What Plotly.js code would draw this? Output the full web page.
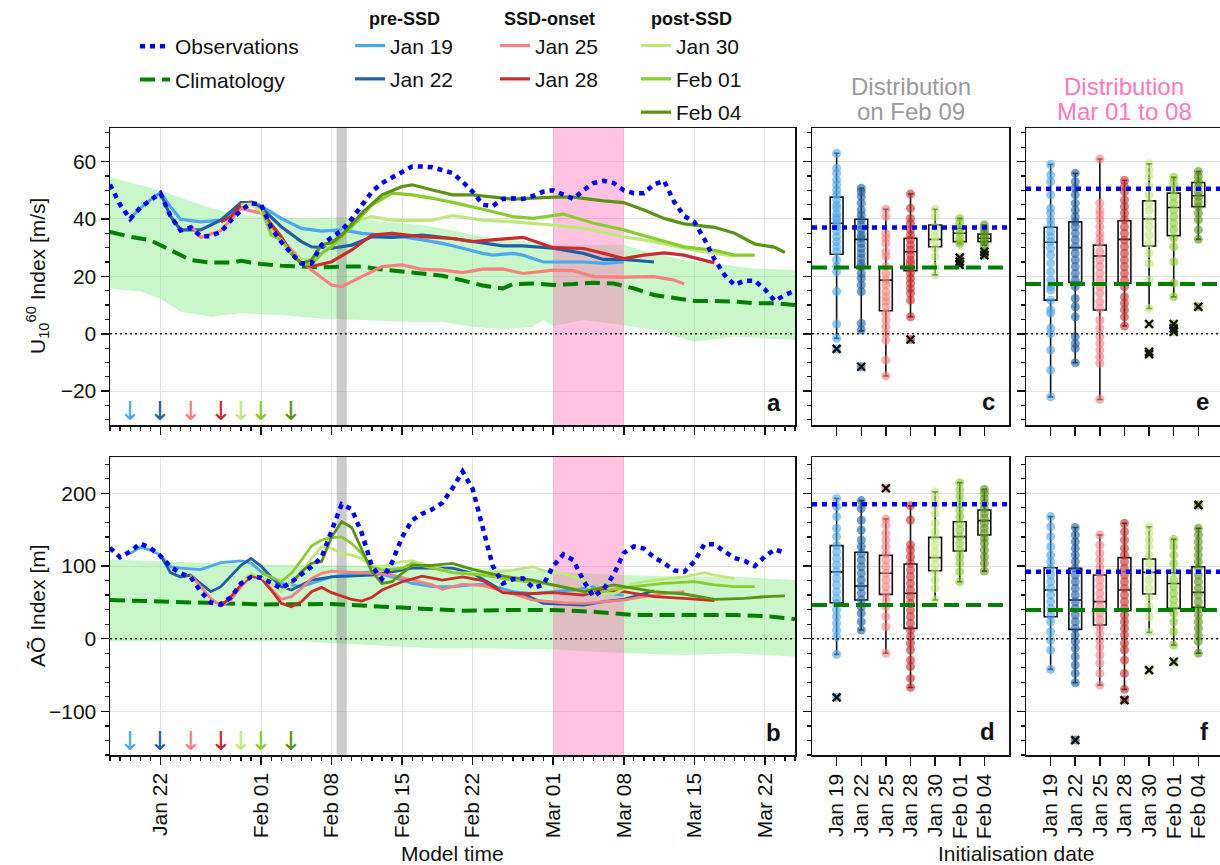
<!DOCTYPE html>
<html><head><meta charset="utf-8">
<script src="https://cdn.plot.ly/plotly-3.0.1.min.js"></script>
<style>html,body{margin:0;padding:0;background:#fff;overflow:hidden}#chart{width:1220px;height:865px}</style>
</head><body><div id="chart"></div>
<script>
// ---------------- DATA ----------------
const YEAR = '2024-';
const initLabels = ['Jan 19','Jan 22','Jan 25','Jan 28','Jan 30','Feb 01','Feb 04'];
const initDates  = ['01-19','01-22','01-25','01-28','01-30','02-01','02-04'];
const groupNames = ['pre-SSD','SSD-onset','post-SSD'];
const majorTicks    = ['01-22','02-01','02-08','02-15','02-22','03-01','03-08','03-15','03-22'];
const majorTickText = ['Jan 22','Feb 01','Feb 08','Feb 15','Feb 22','Mar 01','Mar 08','Mar 15','Mar 22'];
const graySpan = ['02-08 12:00','02-09 12:00'];
const pinkSpan = ['03-01','03-08'];

const obsDatesU = ['01-17','01-18','01-19','01-20','01-21','01-22','01-23','01-24','01-25','01-26','01-27','01-28','01-29','01-30','01-31',
 '02-01','02-02','02-03','02-04','02-05','02-06','02-07','02-08','02-09','02-10','02-11','02-12','02-13','02-14','02-15','02-16','02-17','02-18','02-19','02-20','02-21','02-22','02-23','02-24','02-25','02-26','02-27','02-28','02-29',
 '03-01','03-02','03-03','03-04','03-05','03-06','03-07','03-08','03-09','03-10','03-11','03-12','03-13','03-14','03-15','03-16','03-17','03-18','03-19','03-20','03-21','03-22','03-23','03-24','03-25'];
const obsU = [52,45,40,44,46.5,49,41,36,37,34,34,35.5,39.5,43,45.5,
 45,37,32,28,24.5,24.5,31,33.5,36,40,44.5,49.5,52.5,54.5,56.5,58.3,58.3,58,57,56,53,49.5,45,44.5,47,47.2,47,48,49.5,
 50,48.5,47,50,52.5,53.3,52.5,50,49,49,52,53.3,46,41,39,33,26,20.5,17,18.5,18.5,15.5,11.5,13.5,15];
const obsDatesAO = obsDatesU.slice(0, 68);
const obsAO = [125,112,120,131,125,114,99,90,85,65,50,47,57,76,85,
 84,77,69,78,88,99,112,150,185,178,145,100,82,105,140,163,172,178,187,207,230,206,150,100,76,82,83,70,74,
 100,116,108,80,58,68,88,118,127,124,112,104,94,92,106,130,130,120,111,107,100,113,123,118];

const climU = [['01-17',35.5],['01-19',33.8],['01-21',32.6],['01-23',29],['01-25',25.7],['01-27',24.8],['01-29',24.8],['01-30',25.4],['02-01',24.3],['02-03',23.7],['02-05',23.4],['02-07',23.1],['02-09',23.4],['02-11',23.4],['02-13',22.4],['02-15',21.6],['02-17',21],['02-19',20.2],['02-21',18.6],['02-23',16.8],['02-25',15.8],['02-26',17.3],['02-28',17.5],['03-01',17],['03-03',17.3],['03-05',17.8],['03-07',17.5],['03-09',15.8],['03-11',13.5],['03-13',12.3],['03-15',11.4],['03-17',11.4],['03-19',11.2],['03-21',10.6],['03-23',10.6],['03-25',10]];
const bandUupper = [['01-17',54.5],['01-22',50],['01-26',44.9],['01-29',42],['02-01',40.8],['02-05',40.2],['02-09',40.6],['02-13',39],['02-17',37.9],['02-20',36],['02-23',33.8],['02-26',32.5],['03-01',31],['03-08',31],['03-11',28],['03-14',25.7],['03-17',24.5],['03-21',22.7],['03-25',22.2]];
const bandUlower = [['01-17',15.8],['01-20',14.7],['01-22',12.3],['01-24',7.7],['01-27',5.9],['01-30',7.1],['02-03',6.5],['02-07',5.3],['02-11',4.8],['02-15',4.2],['02-19',4.2],['02-22',2.4],['02-25',1.5],['02-28',2.4],['02-29',4.8],['03-01',2.7],['03-04',4.8],['03-08',3],['03-11',1.3],['03-15',-2.8],['03-19',-1],['03-25',-2.2]];
const climAO = [['01-17',53.2],['01-23',51],['01-28',48.6],['02-01',47.2],['02-08',47.7],['02-13',44],['02-18',40.4],['02-21',38.5],['02-25',39.4],['03-01',39.4],['03-05',37.2],['03-09',32.6],['03-14',32.6],['03-19',32.6],['03-22',31.2],['03-25',27]];
const bandAOupper = [['01-17',109],['01-23',106],['01-29',103],['02-08',101],['02-15',100],['02-20',99],['02-24',97],['03-01',92],['03-04',90],['03-08',87.6],['03-14',85.3],['03-19',85.3],['03-25',80.7]];
const bandAOlower = [['01-17',-4],['01-26',-4],['02-05',-4],['02-12',-8.7],['02-18',-13.3],['02-24',-13.3],['03-01',-14.7],['03-08',-20],['03-14',-22.5],['03-19',-20],['03-25',-24.8]];

// forecasts, U index (panel a)
const fcU_Jan19 = [['01-19',40.2],['01-20',43.7],['01-21',46.6],['01-22',49.2],['01-23',44.3],['01-24',39.9],['01-26',39],['01-28',39.6],['01-30',44.9],['01-31',46],['02-01',44.5],['02-03',40.2],['02-05',36.7],['02-07',35.8],['02-09',36.2],['02-11',35],['02-13',34.4],['02-15',33.8],['02-17',32.7],['02-19',31.5],['02-21',29.8],['02-23',28],['02-24',27.4],['02-26',28],['02-27',27.4],['02-29',25],['03-02',25],['03-04',25],['03-06',24.5],['03-08',25]];
const fcU_Jan22 = [['01-22',49.2],['01-23',41],['01-24',36.2],['01-26',36.2],['01-28',39.6],['01-30',45.7],['01-31',45.7],['02-01',44],['02-03',37.3],['02-05',32.1],['02-06',30.3],['02-08',29.8],['02-10',30.9],['02-12',33.8],['02-14',33.6],['02-17',34.4],['02-20',33.2],['02-22',32.1],['02-25',30.6],['02-27',30.6],['03-01',29.8],['03-04',28],['03-06',25.9],['03-08',25.9],['03-11',25]];
const fcU_Jan25 = [['01-25',37.8],['01-26',33.6],['01-28',35.9],['01-30',43.7],['02-01',42],['02-02',37.3],['02-04',29.2],['02-06',22.2],['02-08',17],['02-09',16.4],['02-11',19.9],['02-13',23.4],['02-15',24],['02-17',22.4],['02-19',22.2],['02-21',21.3],['02-23',22.5],['02-25',22.6],['02-27',21],['03-01',22.2],['03-03',22],['03-05',19.9],['03-08',19.7],['03-11',19.9],['03-13',18.7],['03-14',17.3]];
const fcU_Jan28 = [['01-28',39],['01-29',40.8],['01-30',44.9],['01-31',45.5],['02-01',42.6],['02-03',33.8],['02-04',28],['02-05',24.5],['02-06',23.4],['02-08',25.1],['02-10',29.2],['02-12',34.4],['02-14',35],['02-17',33.8],['02-20',33.2],['02-22',32.1],['02-24',32.7],['02-27',33.6],['03-01',30],['03-04',29.7],['03-06',28],['03-08',26.2],['03-10',27.4],['03-12',28.2],['03-14',27.4],['03-17',24.7]];
const fcU_Jan30 = [['01-30',44.9],['01-31',45.2],['02-01',42.6],['02-02',35],['02-03',32.7],['02-04',28],['02-05',25.9],['02-06',25.7],['02-07',28],['02-08',31.5],['02-10',39],['02-12',40.8],['02-14',39.6],['02-16',39.4],['02-18',39.6],['02-20',41.2],['02-23',39.6],['02-26',39],['03-01',37.9],['03-04',36.7],['03-08',33.8],['03-11',32.1],['03-14',29.8],['03-17',28],['03-19',27.1]];
const fcU_Feb01 = [['02-01',44.3],['02-02',34.4],['02-03',32.7],['02-04',28],['02-05',24.5],['02-06',24],['02-07',28],['02-08',30.3],['02-10',37.3],['02-12',44.9],['02-14',49],['02-16',48.4],['02-18',47.2],['02-20',45.8],['02-23',43.4],['02-26',40.8],['02-28',40.2],['03-02',41.7],['03-05',38.5],['03-08',36.2],['03-11',33.2],['03-14',30.3],['03-17',29.1],['03-19',27.4],['03-21',27.4]];
const fcU_Feb04 = [['02-04',28],['02-05',24.5],['02-06',25.7],['02-07',31],['02-08',31.7],['02-09',34.4],['02-11',42],['02-13',48.4],['02-15',51.3],['02-16',51.9],['02-18',50.1],['02-20',48.4],['02-22',48.4],['02-24',47.7],['02-26',46.9],['03-01',47.6],['03-03',47.6],['03-06',46.3],['03-08',45.7],['03-10',43.1],['03-12',40.2],['03-14',38.3],['03-17',37.1],['03-19',35],['03-21',31.3],['03-23',30.1],['03-24',28.3]];

// forecasts, AO index (panel b)
const fcAO_Jan19 = [['01-19',117],['01-20',126],['01-21',122],['01-22',115],['01-23',99],['01-24',97],['01-26',95],['01-28',104.6],['01-30',107],['01-31',104],['02-01',92],['02-02',84],['02-03',76],['02-04',74],['02-05',71.6],['02-06',76],['02-08',85],['02-10',90],['02-12',92],['02-14',85],['02-16',76],['02-18',71.6],['02-20',71.6],['02-23',75],['02-25',69],['02-26',64.7],['02-28',62],['03-01',64.7],['03-03',67],['03-05',71.6],['03-06',62],['03-08',60]];
const fcAO_Jan22 = [['01-22',115],['01-23',91],['01-24',85],['01-25',87.6],['01-26',76],['01-27',64.7],['01-28',71.6],['01-30',101],['01-31',110.5],['02-01',100],['02-02',85],['02-03',71.6],['02-04',67],['02-05',74],['02-06',80.7],['02-08',85],['02-10',86],['02-12',87.6],['02-14',92],['02-16',97],['02-18',97],['02-20',97],['02-22',90],['02-24',74],['02-25',64],['02-27',62],['02-29',48.6],['03-02',47.7],['03-04',46.3],['03-06',51],['03-08',54],['03-11',66]];
const fcAO_Jan25 = [['01-25',87.6],['01-26',71.6],['01-27',55.5],['01-28',45],['01-29',53.2],['01-30',71.6],['01-31',86],['02-01',83],['02-02',69],['02-03',54],['02-04',57.8],['02-05',69],['02-06',83],['02-07',90],['02-08',93],['02-10',92],['02-12',90],['02-14',87.6],['02-16',80.7],['02-18',74],['02-19',68],['02-21',75],['02-23',73],['02-26',62],['02-28',53],['03-02',49.5],['03-04',48.6],['03-06',51],['03-08',53],['03-10',57.8],['03-12',62],['03-14',64.7]];
const fcAO_Jan28 = [['01-28',45],['01-29',57.8],['01-30',74],['01-31',86],['02-01',83],['02-02',67],['02-03',48.6],['02-04',44],['02-05',51],['02-06',64.7],['02-07',70.6],['02-08',63.3],['02-10',54],['02-11',51.8],['02-12',57],['02-13',67],['02-15',78.4],['02-17',86],['02-19',80.7],['02-21',85],['02-23',80],['02-25',63.3],['02-27',61.5],['03-01',63.3],['03-04',60],['03-06',67],['03-08',64.7],['03-11',57.8],['03-14',55.5],['03-17',52.3]];
const fcAO_Jan30 = [['01-30',76],['01-31',90],['02-01',85],['02-02',76],['02-03',64.7],['02-04',76],['02-05',90],['02-06',110.5],['02-07',126.6],['02-08',124.3],['02-09',117.4],['02-10',115],['02-11',110.5],['02-12',99],['02-13',99],['02-15',106],['02-16',107],['02-18',99],['02-20',91],['02-23',90],['02-26',94.5],['02-28',99],['02-29',93.6],['03-02',90],['03-04',80.7],['03-05',62],['03-07',61.5],['03-09',76],['03-11',80.7],['03-14',85],['03-16',91],['03-17',87.6],['03-19',83]];
const fcAO_Feb01 = [['02-01',90],['02-02',85],['02-03',78.4],['02-04',90],['02-05',108],['02-06',127.5],['02-07',135.8],['02-08',139],['02-09',140],['02-10',131],['02-11',117.4],['02-12',99],['02-13',94.5],['02-15',97],['02-16',103.7],['02-18',97],['02-20',91],['02-23',87.6],['02-26',80.7],['02-29',76],['03-03',69],['03-05',62],['03-07',68],['03-09',71.6],['03-12',76],['03-15',78.4],['03-17',74],['03-19',71.6],['03-21',71.6]];
const fcAO_Feb04 = [['02-04',76],['02-05',92],['02-06',103.7],['02-07',106],['02-08',140],['02-09',161],['02-10',153],['02-11',122],['02-12',92],['02-13',76],['02-14',78.4],['02-15',90],['02-16',101],['02-18',101],['02-20',103.5],['02-22',95.5],['02-24',89],['02-26',84],['02-28',80.7],['03-01',73.9],['03-04',64.7],['03-07',73.9],['03-09',69],['03-11',64.7],['03-14',61.5],['03-17',54],['03-20',55.5],['03-22',57.8],['03-24',59]];

// reference values for the distribution panels [U, AO]
const obsFeb09  = [37, 185];
const climFeb09 = [23.1, 46.3];
const obsMar    = [50.5, 92.2];
const climMar   = [17.3, 39.4];

// box statistics: panel c (U, Feb 09)
const cUpper = [62.9,50.7,43.4,48.7,43.4,40.2,37.9];
const cQ3    = [47.6,39.9,23.1,33.3,37.9,36.7,34.7];
const cMed   = [38.5,32.9,18.7,28.6,32.9,35.0,33.3];
const cQ1    = [27.7,23.1,8.0,22.0,30.3,32.1,32.1];
const cLower = [-1.6,1.0,-14.7,5.9,20.5,31.3,30.9];
const cOut   = [[-5.3],[-11.5],[],[-2.0],[],[26.5,25.1,24.0],[28.6,27.4]];
const cMembers = [
 [62.9,57.7,55.9,53.6,51.9,50.1,48.4,46.6,44.9,43.7,42,40.8,39.7,38.5,37.3,35.6,33.8,32.1,30.3,28.6,25.7,23.4,21.6,14.7,3.4,-1.6],
 [50.7,49.5,47.8,45.5,43.1,41.4,39.7,37.9,36.2,34.4,33.3,31.5,29.8,28,26.3,24.5,23.4,21,19.3,17,14.7,3.6,1.3],
 [43.4,40.8,35,33.3,31.5,28.6,26.9,23.4,21,18.7,17,14.7,12.9,11.2,9.4,7.1,4.8,2.4,0.1,-2.2,-9.2,-14.7],
 [48.7,43.7,40.2,38.5,36.2,34.4,32.7,30.9,29.2,27.4,25.7,24.5,22.8,21,19.3,17.6,15.8,14.1,11.7,5.9],
 [43.4,40.8,37.3,35.6,33.8,32.1,29.8,26.9,23.4,20.5],
 [40.2,38.5,36.7,35,33.3,32,31.3],
 [37.9,36.7,35.6,34.4,33.3,32.1,30.9]];
// panel e (U, Mar 01 to 08)
const eUpper = [59,55.9,60.9,53.4,59.2,54.5,56.5];
const eQ3    = [37.1,39.0,30.9,39.4,46.3,49.0,52.7];
const eMed   = [31.9,30.0,27.1,32.9,40.0,44.0,48.1];
const eQ1    = [11.7,17.9,8.3,17.6,30.6,34.2,44.3];
const eLower = [-22,-10.1,-22.9,2.7,8.8,12.9,32.9];
const eOut   = [[],[],[],[],[3.4,-6.3,-7.1],[3.4,1.9,0.7],[9.4]];
const eMembers = [
 [59,55.3,53,48.4,43.7,42,39.7,37.9,35.6,33.8,32.1,29.8,27.4,24.5,21.6,18.7,16.4,15.2,11.7,8.3,7.1,1.9,0.1,-5.7,-12.7,-22],
 [55.9,53,50.7,48.4,45.5,43.1,40.8,39,37.3,35,32.7,30.3,28,25.7,23.4,21,18.7,16.4,12.3,9.4,5.9,-1,-3.4,-5.1,-10.1],
 [60.9,45.5,43.1,41.4,39.7,37.3,35,33.3,31.5,28.6,25.7,23.4,21,18.7,16.4,14.1,11.2,8.8,4.8,1.9,-1,-3.4,-5.7,-8,-10.3,-22.9],
 [53.4,51.3,49.5,46.6,44.3,42,39.7,37.3,35,32.7,30.3,28,25.7,23.4,21,18.7,16.4,12.9,10.6,8.3,5.9,2.7],
 [59.2,57.1,54.8,51.3,48.4,45.5,43.1,39.7,37.3,34.4,31.5,28,24.5,18.7,8.8],
 [54.5,52.4,50.1,47.8,45.5,43.1,40.8,38.5,36.2,33.3,30.3,25.1,17.6,12.9],
 [56.5,54.8,53,51.3,49.5,47.8,46,44.3,42,39.7,36.2,32.9]];
// panel d (AO, Feb 09)
const dUpper = [193,190,164.7,183,202,214.7,205.5];
const dQ3    = [128,119,114.7,102.8,139.4,161,177];
const dMed   = [92,72.5,90,62.4,111.5,140.4,162.4];
const dQ1    = [49.5,53.2,61,14.2,93.6,120.6,142.7];
const dLower = [-21.6,12,-20,-67,53.2,78.4,93];
const dOut   = [[-80.7],[],[207],[],[],[],[]];
const dMembers = [
 [193,181.7,167.9,151.8,140.4,128.4,119.7,110.6,101.4,92.2,83,73.9,64.7,55.5,48.6,39.4,30.3,21.1,11.9,2.8,-21.6],
 [190,179,163,149.5,135.8,126.6,117.4,108.3,99,89.9,80.7,71.6,62.4,53.2,44,34.9,23.4,12],
 [164.7,156.4,145,135.8,126.6,117.4,108.3,99,89.9,80.7,71.6,62.4,53.2,44,30.3,16.5,-20],
 [183,163.3,128.9,122,112.8,103.7,94.5,85.3,76.1,67,57.8,48.6,39.4,30.3,21.1,11.9,2.8,-6.4,-15.6,-29.4,-38.5,-54.6,-67],
 [202,193,184,172.5,158.7,147.2,138,128.9,119.7,110.6,101.4,92.2,80.7,69.3,53.2],
 [214.7,204.6,195.4,186.2,177,167.9,158.7,149.5,140.4,131.2,122,112.8,103.7,92.2,78.4],
 [205.5,200,193,186.2,179.4,172.5,165.6,158.7,151.8,145,138,131.2,122,112.8,103.7,93]];
// panel f (AO, Mar 01 to 08)
const fUpper = [168,153,142.7,158.7,154,136.7,151.8];
const fQ3    = [97.7,96.8,87.6,111.5,109.6,90.8,99];
const fMed   = [67,53.2,51,67,91.3,76,63.8];
const fQ1    = [30.3,12.8,18.8,38.5,61.5,41.7,43.1];
const fLower = [-42.2,-60.6,-63.8,-69.7,8.7,-8.7,-20];
const fOut   = [[],[-139.4],[],[-84.4],[-43.1],[-31.7],[184]];
const fMembers = [
 [168,154,140.4,126.6,115,106,96.8,87.6,78.4,69.3,60,50.9,41.7,32.6,23.4,9.6,-1.8,-15.6,-42.2],
 [153,142.7,133.5,124.3,115,106,96.8,87.6,78.4,69.3,60,50.9,41.7,32.6,23.4,14.2,5,-4.1,-13.3,-24.8,-36.2,-47.7,-60.6],
 [142.7,128.9,117.4,108.3,99,89.9,80.7,71.6,62.4,53.2,44,34.9,25.7,16.5,7.3,-1.8,-11,-22.5,-33.9,-47.7,-63.8],
 [158.7,147.2,135.8,124.3,115,106,96.8,87.6,78.4,69.3,60,50.9,41.7,32.6,23.4,14.2,5,-6.4,-15.6,-29.4,-47.7,-69.7],
 [154,145,135.8,126.6,115,103.7,92.2,80.7,69.3,57.8,44,30.3,8.7],
 [136.7,126.6,115,103.7,92.2,80.7,71.6,62.4,53.2,44,34.9,23.4,9.6,-8.7],
 [151.8,142.7,133.5,124.3,115,106,96.8,87.6,78.4,69.3,60,50.9,41.7,32.6,23.4,14.2,5,-4.1,-20]];

// ---------------- STYLE ----------------
const FONT = 'Liberation Sans, Arial, Helvetica, sans-serif';
const initColors = ['#4aa8ee','#1f5fa6','#f88080','#cc2b2b','#bfe87a','#8acb2e','#5a9412'];
const initGroupIdx = [0,0,1,1,2,2,2];
const OBS_COL = '#0000ff', CLIM_COL = '#008000';
const rangeU = [-31.8, 71.7], rangeAO = [-160, 250];
const dt = s => YEAR + s;
const xs = a => a.map(p => dt(p[0]));
const ys = a => a.map(p => p[1]);

const fcU  = [fcU_Jan19, fcU_Jan22, fcU_Jan25, fcU_Jan28, fcU_Jan30, fcU_Feb01, fcU_Feb04];
const fcAO = [fcAO_Jan19, fcAO_Jan22, fcAO_Jan25, fcAO_Jan28, fcAO_Jan30, fcAO_Feb01, fcAO_Feb04];

const traces = [];
function timePanel(xa, ya, band, bandLo, clim, obsD, obs, fc, yr, isTop) {
  const bx = xs(band).concat(xs(bandLo).reverse());
  const by = ys(band).concat(ys(bandLo).reverse());
  traces.push({x:bx, y:by, xaxis:xa, yaxis:ya, mode:'lines', fill:'toself', fillcolor:'rgba(144,238,144,0.48)', line:{width:0}, showlegend:false, hoverinfo:'skip'});
  [[graySpan,'rgba(128,128,128,0.4)'],[pinkSpan,'rgba(255,105,180,0.4)']].forEach(([sp,col]) => {
    traces.push({x:[dt(sp[0]),dt(sp[0]),dt(sp[1]),dt(sp[1])], y:[yr[0],yr[1],yr[1],yr[0]], xaxis:xa, yaxis:ya, mode:'lines', fill:'toself', fillcolor:col, line:{width:0}, showlegend:false, hoverinfo:'skip'});
  });
  traces.push({x:xs(clim), y:ys(clim), xaxis:xa, yaxis:ya, mode:'lines', name:'Climatology', legend:'legend', legendrank:2,
    legendgroup:'clim', line:{color:CLIM_COL, width:4, dash:'15px,7px'}, showlegend:isTop});
  fc.forEach((s,i) => {
    traces.push({x:xs(s), y:ys(s), xaxis:xa, yaxis:ya, mode:'lines', name:initLabels[i],
      legend: ['legend2','legend3','legend4'][initGroupIdx[i]], legendgroup:initLabels[i],
      line:{color:initColors[i], width: isTop ? 3.2 : 2.8}, showlegend:isTop});
  });
  traces.push({x:obsD.map(dt), y:obs, xaxis:xa, yaxis:ya, mode:'lines', name:'Observations', legend:'legend', legendrank:1,
    legendgroup:'obs', line:{color:OBS_COL, width:4.5, dash:'5px,5px'}, showlegend:isTop});
}
timePanel('x','y', bandUupper, bandUlower, climU, obsDatesU, obsU, fcU, rangeU, true);
timePanel('x2','y2', bandAOupper, bandAOlower, climAO, obsDatesAO, obsAO, fcAO, rangeAO, false);

const cats = [0,1,2,3,4,5,6];
function boxPanel(xa, ya, up, q3, med, q1, lo, outs, members) {
  members.forEach((m,i) => {
    const vals = m.concat(outs[i]);
    traces.push({x:vals.map(() => cats[i]), y:vals, xaxis:xa, yaxis:ya, mode:'markers',
      marker:{size:9, color:initColors[i], opacity:0.62}, showlegend:false, hoverinfo:'skip'});
  });
  traces.push({type:'box', orientation:'v', x:cats, q1:q1, median:med, q3:q3, lowerfence:lo, upperfence:up,
    xaxis:xa, yaxis:ya, boxpoints:false, fillcolor:'rgba(0,0,0,0)', line:{color:'#111', width:1.6},
    width:0.52, whiskerwidth:0.42, showlegend:false, hoverinfo:'skip'});
  const ox = [], oy = [];
  outs.forEach((o,i) => o.forEach(v => { ox.push(cats[i]); oy.push(v); }));
  traces.push({x:ox, y:oy, xaxis:xa, yaxis:ya, mode:'markers',
    marker:{symbol:'x-thin', size:8, line:{color:'#111', width:2.4}}, showlegend:false, hoverinfo:'skip'});
}
boxPanel('x3','y3', cUpper, cQ3, cMed, cQ1, cLower, cOut, cMembers);
boxPanel('x4','y4', dUpper, dQ3, dMed, dQ1, dLower, dOut, dMembers);
boxPanel('x5','y5', eUpper, eQ3, eMed, eQ1, eLower, eOut, eMembers);
boxPanel('x6','y6', fUpper, fQ3, fMed, fQ1, fLower, fOut, fMembers);

// ---------------- LAYOUT ----------------
const W = 1220, H = 865;
const px = v => v / W, py = v => 1 - v / H;
const domA = [px(110), px(795)], domC = [px(812), px(1009)], domE = [px(1026), 1];
const domTop = [py(425), py(128)], domBot = [py(755), py(457)];
const tickFont = {family:FONT, size:21, color:'#111'};
const axBase = {showline:true, mirror:true, linecolor:'#111', linewidth:1.5, ticks:'outside', tickcolor:'#111',
  tickwidth:1.5, ticklen:8, tickfont:tickFont, zeroline:false, gridcolor:'#e2e2e2', gridwidth:1, fixedrange:true};
const timeAx = (dom, anchor, labels) => Object.assign({}, axBase, {type:'date', domain:dom, anchor:anchor,
  range:[dt('01-17'), dt('03-25')], tickmode:'array', tickvals:majorTicks.map(dt), ticktext:majorTickText,
  showticklabels:labels, tickangle:-90, showgrid:true,
  minor:{tickmode:'linear', tick0:dt('01-17'), dtick:86400000, ticklen:4, tickwidth:1.2, tickcolor:'#111', ticks:'outside', showgrid:false}});
const yAx = (dom, anchor, rng, vals, minorD, labels) => Object.assign({}, axBase, {domain:dom, anchor:anchor, range:rng,
  tickmode:'array', tickvals:vals, showticklabels:labels, showgrid:true,
  minor:{tickmode:'linear', tick0:0, dtick:minorD, ticklen:4, tickwidth:1.2, tickcolor:'#111', ticks:'outside', showgrid:false}});
const catAx = (dom, anchor, rng, labels) => Object.assign({}, axBase, {domain:dom, anchor:anchor, range:rng,
  tickmode:'array', tickvals:cats, ticktext:initLabels, tickangle:-90, showticklabels:labels, showgrid:false, ticklen:9});

const uTicks = [-20,0,20,40,60], aoTicks = [-100,0,100,200];
const legBase = {font:{family:FONT, size:21, color:'#111'}, bgcolor:'rgba(0,0,0,0)', borderwidth:0,
  xanchor:'left', yanchor:'top', traceorder:'grouped', tracegroupgap:3, itemwidth:30};
const legTitle = t => ({text:'<b>'+t+'</b>', side:'top center', font:{family:FONT, size:18, color:'#111'}});

const shapes = [];
[['x','y'],['x2','y2'],['x3','y3'],['x4','y4'],['x5','y5'],['x6','y6']].forEach(([xa,ya]) => {
  shapes.push({type:'line', xref:xa+' domain', x0:0, x1:1, yref:ya, y0:0, y1:0, line:{color:'#222', width:1.6, dash:'2px,3px'}});
});
[['x3','y3',0,obsFeb09,climFeb09],['x4','y4',1,obsFeb09,climFeb09],['x5','y5',0,obsMar,climMar],['x6','y6',1,obsMar,climMar]].forEach(([xa,ya,k,o,c]) => {
  shapes.push({type:'line', xref:xa+' domain', x0:0, x1:1, yref:ya, y0:o[k], y1:o[k], line:{color:OBS_COL, width:4.5, dash:'5px,5px'}});
  shapes.push({type:'line', xref:xa+' domain', x0:0, x1:1, yref:ya, y0:c[k], y1:c[k], line:{color:CLIM_COL, width:4, dash:'15px,7px'}});
});

const ann = [];
const txt = (x, y, text, size, color, extra) => ann.push(Object.assign({xref:'paper', yref:'paper', x:px(x), y:py(y), text:text,
  showarrow:false, font:{family:FONT, size:size, color:color}, xanchor:'center', yanchor:'middle'}, extra || {}));
txt(911, 86, 'Distribution', 24, '#9a9a9a');
txt(911, 112, 'on Feb 09', 24, '#9a9a9a');
txt(1124, 86, 'Distribution', 24, '#ff78c0');
txt(1124, 112, 'Mar 01 to 08', 24, '#ff78c0');
txt(37, 276, 'U<sub>10</sub><sup>60</sup> Index [m/s]', 21, '#111', {textangle:-90});
txt(37, 606, 'AÕ Index [m]', 21, '#111', {textangle:-90});
txt(452, 853, 'Model time', 21, '#111');
txt(1016, 853, 'Initialisation date', 21, '#111');
[['a',783,402],['b',783,732],['c',997,401],['d',997,731],['e',1211,401],['f',1211,731]].forEach(([t,x,y]) =>
  txt(x, y, '<b>'+t+'</b>', 24, '#111', {xanchor:'right'}));
initDates.forEach((d,i) => {
  [['x','y domain'],['x2','y2 domain']].forEach(([xr,yr]) => ann.push({xref:xr, yref:yr, x:dt(d), y:0.048, text:'↓',
    showarrow:false, font:{family:'DejaVu Sans', size:26, color:initColors[i]}, xanchor:'center', yanchor:'middle'}));
});

const layout = {
  width:W, height:H, margin:{l:0, r:0, t:0, b:0}, paper_bgcolor:'#fff', plot_bgcolor:'rgba(0,0,0,0)',
  font:{family:FONT, size:21, color:'#111'}, showlegend:true, hovermode:false,
  xaxis: timeAx(domA, 'y', false), yaxis: yAx(domTop, 'x', rangeU, uTicks, 5, true),
  xaxis2: timeAx(domA, 'y2', true), yaxis2: yAx(domBot, 'x2', rangeAO, aoTicks, 20, true),
  xaxis3: catAx(domC, 'y3', [-1, 7], false), yaxis3: yAx(domTop, 'x3', rangeU, uTicks, 5, false),
  xaxis4: catAx(domC, 'y4', [-1, 7], true), yaxis4: yAx(domBot, 'x4', rangeAO, aoTicks, 20, false),
  xaxis5: catAx(domE, 'y5', [-1, 6.88], false), yaxis5: yAx(domTop, 'x5', rangeU, uTicks, 5, false),
  xaxis6: catAx(domE, 'y6', [-1, 6.88], true), yaxis6: yAx(domBot, 'x6', rangeAO, aoTicks, 20, false),
  legend:  Object.assign({}, legBase, {x:px(135), y:py(26)}),
  legend2: Object.assign({}, legBase, {x:px(350), y:py(2), title:legTitle(groupNames[0])}),
  legend3: Object.assign({}, legBase, {x:px(495), y:py(2), title:legTitle(groupNames[1])}),
  legend4: Object.assign({}, legBase, {x:px(636), y:py(2), title:legTitle(groupNames[2])}),
  shapes: shapes, annotations: ann
};
Plotly.newPlot('chart', traces, layout, {staticPlot:true, displayModeBar:false});
</script></body></html>
